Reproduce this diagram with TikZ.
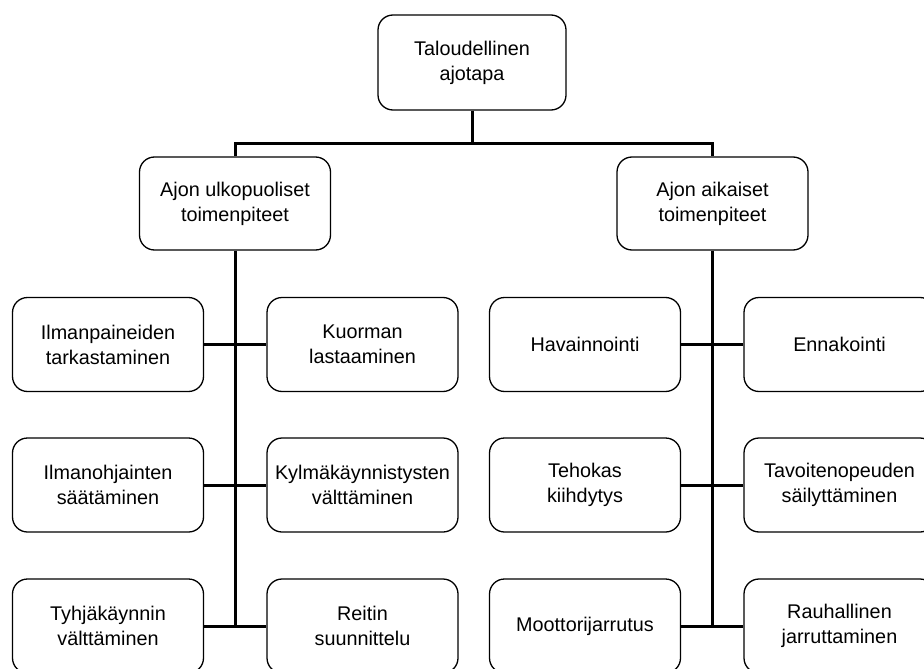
\documentclass[tikz,border=0pt]{standalone}
\usepackage{fontspec}
\setmainfont{Liberation Sans}
\begin{document}
\begin{tikzpicture}[x=1pt,y=-1pt,
		box/.style={draw,line width=1.3pt,rounded corners=15pt,align=center,inner sep=0pt,
			minimum width=191pt,minimum height=94pt,font=\fontsize{19.8}{25}\selectfont},
		conn/.style={line width=3pt}]
		% Frame
		\useasboundingbox (0,0) rectangle (924,669);
		\clip (0,0) rectangle (924,669);
		% Top
		\node [box,minimum width=188pt,minimum height=95pt] (top) at (472,62.5) {Taloudellinen\\ajotapa};
		% Level 2
		\node [box,minimum height=93pt] (ulko) at (235,203.5) {Ajon ulkopuoliset\\toimenpiteet};
		\node [box,minimum height=93pt] (aika) at (712.5,203.5) {Ajon aikaiset\\toimenpiteet};
		\coordinate (bar) at (472,143);
		\draw [conn] (top.south) -- (bar) -| (ulko.north);
		\draw [conn] (bar) -| (aika.north);
		% Left branch
		\node [box] (ilmanp) at (108,344.5) {Ilmanpaineiden\\tarkastaminen};
		\node [box] (kuorma) at (362.5,344.5) {Kuorman\\lastaaminen};
		\node [box] (ilmano) at (108,485) {Ilmanohjainten\\säätäminen};
		\node [box] (kylma) at (362.5,485) {Kylmäkäynnistysten\\välttäminen};
		\node [box] (tyhja) at (108,626) {Tyhjäkäynnin\\välttäminen};
		\node [box] (reitti) at (362.5,626) {Reitin\\suunnittelu};
		\draw [conn] (ulko.south) -- (ulko.south |- tyhja.east);
		\draw [conn] (ilmanp.east) -- (kuorma.west);
		\draw [conn] (ilmano.east) -- (kylma.west);
		\draw [conn] (tyhja.east) -- (reitti.west);
		% Right branch
		\node [box] (havain) at (585,344.5) {Havainnointi};
		\node [box] (ennak) at (839.5,344.5) {Ennakointi};
		\node [box] (tehok) at (585,485) {Tehokas\\kiihdytys};
		\node [box] (tavoit) at (839.5,485) {Tavoitenopeuden\\säilyttäminen};
		\node [box] (moott) at (585,626) {Moottorijarrutus};
		\node [box] (rauha) at (839.5,626) {Rauhallinen\\jarruttaminen};
		\draw [conn] (aika.south) -- (aika.south |- moott.east);
		\draw [conn] (havain.east) -- (ennak.west);
		\draw [conn] (tehok.east) -- (tavoit.west);
		\draw [conn] (moott.east) -- (rauha.west);
	\end{tikzpicture}
\end{document}
